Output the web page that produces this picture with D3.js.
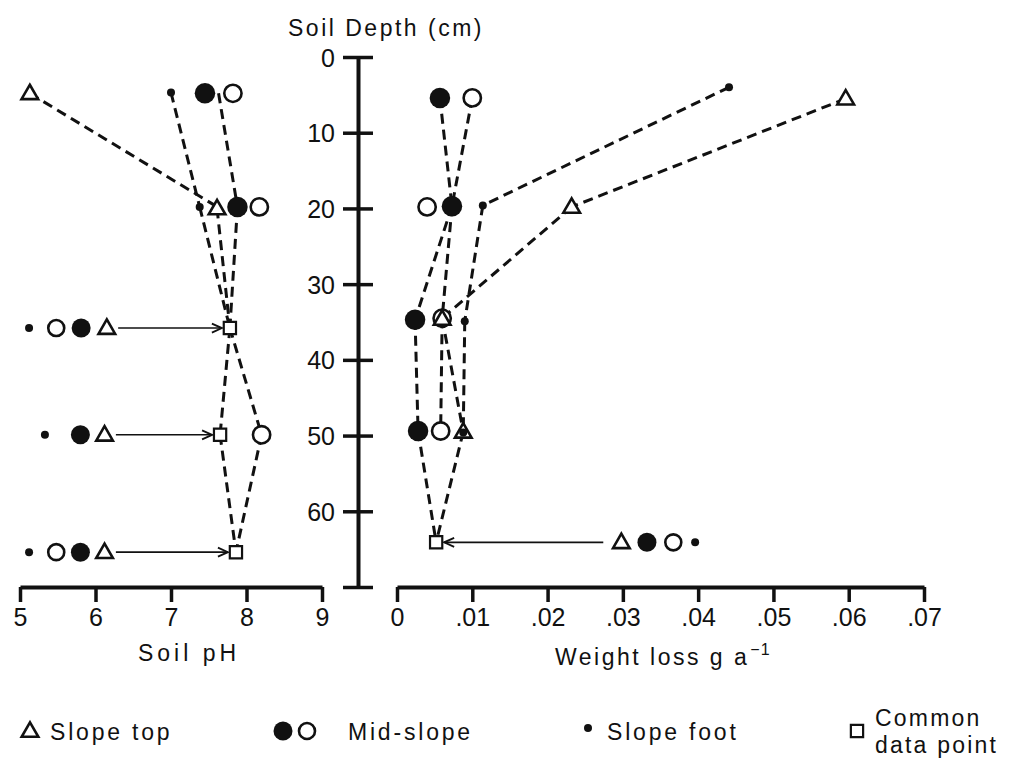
<!DOCTYPE html>
<html>
<head>
<meta charset="utf-8">
<script src="https://cdn.jsdelivr.net/npm/d3@7"></script>
<style>
  html, body { margin: 0; padding: 0; background: #fff; }
  svg { display: block; }
  text { font-family: "Liberation Sans", Arial, Helvetica, sans-serif; fill: #111; }
</style>
</head>
<body>
<svg id="chart" width="1009" height="759"></svg>
<script>
// ---- Axis ticks ----
const depthTicks = [0, 10, 20, 30, 40, 50, 60, 70];
const phTicks = [5, 6, 7, 8, 9];
const lossTicks = [0, 0.01, 0.02, 0.03, 0.04, 0.05, 0.06, 0.07];

// ---- Soil pH panel: plotted points [shape, pH, depth] ----
const phPoints = [
  ["tri", 5.13, 4.8], ["dot", 7.0, 4.7], ["fill", 7.45, 4.8], ["open", 7.82, 4.8],
  ["dot", 7.38, 19.8], ["tri", 7.61, 20.0], ["fill", 7.88, 19.8], ["open", 8.17, 19.8],
  ["open", 8.2, 49.9]
];
// dashed connections between depths [[pH, depth], [pH, depth]]
const phLinks = [
  [[5.13, 4.8], [7.58, 19.6]],
  [[7.0, 4.7], [7.38, 19.8]],
  [[7.63, 4.8], [7.88, 19.8]],
  [[7.38, 19.8], [7.78, 35.8]],
  [[7.61, 20.0], [7.78, 35.8]],
  [[7.88, 19.8], [7.78, 35.8]],
  [[7.78, 35.8], [7.65, 49.9]],
  [[7.78, 35.8], [8.2, 49.9]],
  [[7.65, 49.9], [7.86, 65.4]],
  [[8.2, 49.9], [7.86, 65.4]]
];
// common data points (all sites share the value) with the key symbols pointing at them
const phCommon = [[7.78, 35.8], [7.65, 49.9], [7.86, 65.4]];
const phCommonKeys = [
  [["dot", 5.12], ["open", 5.48], ["fill", 5.81], ["tri", 6.15]],
  [["dot", 5.33], ["fill", 5.8], ["tri", 6.12]],
  [["dot", 5.12], ["open", 5.48], ["fill", 5.8], ["tri", 6.12]]
];
const phArrowFrom = [6.3, 6.27, 6.27];

// ---- Weight loss panel: plotted points [shape, loss, depth] ----
const lossPoints = [
  ["fill", 0.0057, 5.4], ["open", 0.0100, 5.4], ["dot", 0.0441, 4.0], ["tri", 0.0596, 5.5],
  ["open", 0.0040, 19.8], ["fill", 0.0073, 19.7], ["dot", 0.0114, 19.6], ["tri", 0.0232, 19.8],
  ["fill", 0.0024, 34.7], ["open", 0.0060, 34.5], ["tri", 0.0060, 34.6], ["dot", 0.0090, 34.9],
  ["fill", 0.0028, 49.4], ["open", 0.0058, 49.4], ["tri", 0.0088, 49.5], ["dot", 0.0088, 49.6]
];
const lossLinks = [
  [[0.0057, 5.4], [0.0073, 19.7]],
  [[0.0100, 5.4], [0.0073, 19.7]],
  [[0.0441, 4.0], [0.0114, 19.6]],
  [[0.0596, 5.5], [0.0232, 19.8]],
  [[0.0073, 19.7], [0.0024, 34.7]],
  [[0.0073, 19.7], [0.0060, 34.5]],
  [[0.0114, 19.6], [0.0090, 34.9]],
  [[0.0232, 19.8], [0.0060, 34.5]],
  [[0.0024, 34.7], [0.0028, 49.4]],
  [[0.0060, 34.5], [0.0058, 49.4]],
  [[0.0060, 34.5], [0.0088, 49.5]],
  [[0.0090, 34.9], [0.0088, 49.5]],
  [[0.0028, 49.4], [0.0052, 64.1]],
  [[0.0088, 49.5], [0.0052, 64.1]]
];
const lossCommon = [[0.0052, 64.1]];
const lossCommonKeys = [
  [["tri", 0.0298], ["fill", 0.0332], ["open", 0.0367], ["dot", 0.0396]]
];
const lossArrowFrom = [0.0274];

// ---- Legend entries ----
const legendItems = [
  { shapes: ["tri"], label: ["Slope top"] },
  { shapes: ["fill", "open"], label: ["Mid-slope"] },
  { shapes: ["dot"], label: ["Slope foot"] },
  { shapes: ["square"], label: ["Common", "data point"] }
];

// ---- Scales ----
const y = d3.scaleLinear().domain([0, 70]).range([57, 587]);
const xPH = d3.scaleLinear().domain([5, 9]).range([20, 322]);
const xLoss = d3.scaleLinear().domain([0, 0.07]).range([397, 924]);

const svg = d3.select("#chart");

svg.append("defs").append("marker")
  .attr("id", "arrowhead")
  .attr("viewBox", "0 0 12 12")
  .attr("refX", 11).attr("refY", 6)
  .attr("markerWidth", 12).attr("markerHeight", 12)
  .attr("markerUnits", "userSpaceOnUse")
  .attr("orient", "auto")
  .append("path")
  .attr("d", "M1,1.5 L11,6 L1,10.5")
  .attr("fill", "none").attr("stroke", "#111").attr("stroke-width", 1.8);

// ---- Marker drawing ----
function drawMarker(g, shape, cx, cy, big) {
  const s = big ? 1.08 : 1;
  if (shape === "fill") {
    g.append("circle").attr("cx", cx).attr("cy", cy).attr("r", 9.5 * s).attr("fill", "#111");
  } else if (shape === "open") {
    g.append("circle").attr("cx", cx).attr("cy", cy).attr("r", 8 * s)
      .attr("fill", "#fff").attr("stroke", "#111").attr("stroke-width", 2.6);
  } else if (shape === "dot") {
    g.append("circle").attr("cx", cx).attr("cy", cy).attr("r", 4).attr("fill", "#111");
  } else if (shape === "tri") {
    g.append("path")
      .attr("d", d3.symbol(d3.symbolTriangle, 120)())
      .attr("transform", `translate(${cx},${cy + 1})`)
      .attr("fill", "#fff").attr("stroke", "#111").attr("stroke-width", 2.6)
      .attr("stroke-linejoin", "miter");
  } else if (shape === "square") {
    g.append("path")
      .attr("d", d3.symbol(d3.symbolSquare, 150)())
      .attr("transform", `translate(${cx},${cy})`)
      .attr("fill", "#fff").attr("stroke", "#111").attr("stroke-width", 2.2);
  }
}

const dashed = (g, pts, xs) => g.append("path")
  .attr("d", d3.line().x(d => xs(d[0])).y(d => y(d[1]))(pts))
  .attr("fill", "none").attr("stroke", "#111")
  .attr("stroke-width", 3).attr("stroke-dasharray", "10,6");

function drawPanel(points, links, common, keys, arrowFrom, xs) {
  const g = svg.append("g");
  links.forEach(l => dashed(g, l, xs));
  // key symbols + arrows to common points
  common.forEach((c, i) => {
    g.append("line")
      .attr("x1", xs(arrowFrom[i])).attr("y1", y(c[1]))
      .attr("x2", xs(c[0]) + (xs(arrowFrom[i]) < xs(c[0]) ? -8 : 8)).attr("y2", y(c[1]))
      .attr("stroke", "#111").attr("stroke-width", 1.6)
      .attr("marker-end", "url(#arrowhead)");
    keys[i].forEach(k => drawMarker(g, k[0], xs(k[1]), y(c[1])));
  });
  points.forEach(p => drawMarker(g, p[0], xs(p[1]), y(p[2]), true));
  common.forEach(c => drawMarker(g, "square", xs(c[0]), y(c[1])));
}

drawPanel(phPoints, phLinks, phCommon, phCommonKeys, phArrowFrom, xPH);
drawPanel(lossPoints, lossLinks, lossCommon, lossCommonKeys, lossArrowFrom, xLoss);

// ---- Axes ----
function styleAxis(g) {
  g.select(".domain").attr("stroke", "#111").attr("stroke-width", 4);
  g.selectAll(".tick line").attr("stroke", "#111").attr("stroke-width", 3.5);
  g.selectAll(".tick text")
    .style("font-family", '"Liberation Sans", Arial, sans-serif')
    .style("font-size", "25px").attr("fill", "#111");
}

const depthAxis = svg.append("g")
  .attr("transform", "translate(358,0)")
  .call(d3.axisLeft(y).tickValues(depthTicks).tickSize(15).tickSizeOuter(0).tickPadding(8)
    .tickFormat(d => d === 70 ? "" : d));
styleAxis(depthAxis);
depthAxis.selectAll(".tick line").attr("x1", 15);
depthAxis.selectAll(".tick text").attr("dy", "0.36em");

const phAxis = svg.append("g")
  .attr("transform", "translate(0,587)")
  .call(d3.axisBottom(xPH).tickValues(phTicks).tickSize(15).tickSizeOuter(0).tickPadding(6)
    .tickFormat(d3.format("d")));
styleAxis(phAxis);

const lossAxis = svg.append("g")
  .attr("transform", "translate(0,587)")
  .call(d3.axisBottom(xLoss).tickValues(lossTicks).tickSize(15).tickSizeOuter(0).tickPadding(6)
    .tickFormat(d => d === 0 ? "0" : d3.format(".2f")(d).replace(/^0/, "")));
styleAxis(lossAxis);

// ---- Axis titles ----
svg.append("text").attr("x", 386).attr("y", 36).attr("text-anchor", "middle")
  .style("font-size", "23px").style("letter-spacing", "2.5px").text("Soil Depth (cm)");
svg.append("text").attr("x", 189).attr("y", 661).attr("text-anchor", "middle")
  .style("font-size", "23px").style("letter-spacing", "4px").text("Soil pH");
const wl = svg.append("text").attr("x", 555).attr("y", 665)
  .style("font-size", "23px").style("letter-spacing", "2.5px");
wl.append("tspan").text("Weight loss  g  a");
wl.append("tspan").attr("dy", -10).attr("dx", 1).style("font-size", "16px").style("letter-spacing", "1px").text("−1");

// ---- Legend ----
const legendX = [30, 283, 588, 857];
const legendTextX = [50, 348, 607, 875];
legendItems.forEach((item, i) => {
  const lg = svg.append("g");
  item.shapes.forEach((s, j) => drawMarker(lg, s, legendX[i] + j * 24, s === "dot" ? 728 : 731, false));
  if (item.label.length === 1) {
    lg.append("text").attr("x", legendTextX[i]).attr("y", 740)
      .style("font-size", "23px").style("letter-spacing", "2.8px").text(item.label[0]);
  } else {
    item.label.forEach((t, k) => lg.append("text").attr("x", legendTextX[i]).attr("y", 726 + k * 27)
      .style("font-size", "23px").style("letter-spacing", "2.2px").text(t));
  }
});
</script>
</body>
</html>
